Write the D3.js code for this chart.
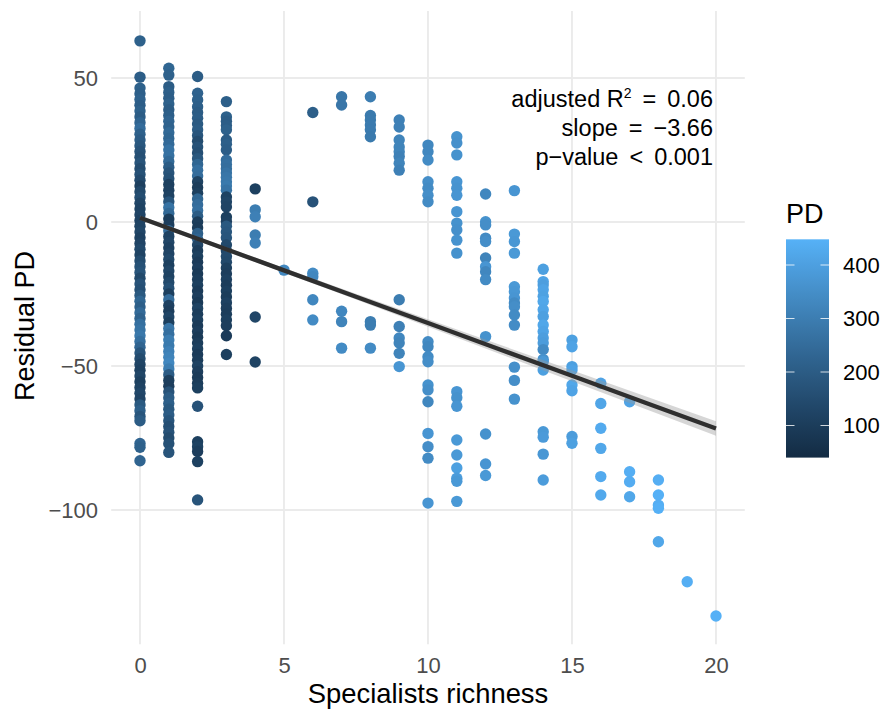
<!DOCTYPE html>
<html>
<head>
<meta charset="utf-8">
<script src="https://cdn.jsdelivr.net/npm/d3@7"></script>
<style>
  html, body { margin: 0; padding: 0; background: #ffffff; }
  svg { display: block; font-family: "Liberation Sans", Arial, Helvetica, sans-serif; }
</style>
</head>
<body>
<svg id="chart" width="882" height="711"></svg>
<script>
// ---------- DATA ----------
// Each richness column: [residual PD, PD]
const s0 = [[62.9,215],[50.3,205],
  [46.5,215],[44.5,210],[42.5,220],[40.5,205],[38.5,215],[36.5,200],[34.5,225],[32.5,250],[30.5,215],[28.5,200],
  [26.5,185],[24.5,170],[22.5,160],[20.5,175],[18.5,150],[16.5,165],[14.5,145],[12.5,110],[10.5,140],[8.5,155],
  [6.5,130],[4.5,120],[2.5,125],[0.5,115],[-1.5,120],[-3.5,130],[-5.5,115],[-7.5,125],[-9.5,140],[-11.5,120],
  [-13.5,150],[-15.5,165],[-17.5,175],[-19.5,140],[-21.5,170],[-23.5,160],[-25.5,190],[-27.5,230],[-29.5,210],
  [-31.5,245],[-33.5,220],[-35.5,260],[-37.5,270],[-39.5,285],[-41.5,260],[-43.5,225],[-45.5,180],[-47.5,150],
  [-49.5,125],[-51.5,115],[-53.5,130],[-55.5,110],[-57.5,120],[-59.5,135],[-61.5,125],[-63.5,190],[-65.5,210],
  [-67.5,180],[-69,200],[-76.9,225],[-78.2,215],[-82.9,225]];
const s1 = [[53.4,230],[51,215],[47,200],[45,210],[43,205],[41,215],[39,200],[37,210],[35,225],[33,220],[31,240],
  [29,230],[27,245],[25,270],[23,265],[21,240],[19,200],[17,175],[15,165],[13,110],[11,115],[9,120],[7,180],
  [5,270],[3,240],[1,100],[-1,105],[-3,250],[-5,120],[-7,130],[-9,115],[-11,125],[-13,140],[-15,110],[-17,130],
  [-19,120],[-21,140],[-23,160],[-25,110],[-27,250],[-29,115],[-31,105],[-33,130],[-35,110],[-37,280],[-39,260],
  [-41,300],[-43,290],[-45,310],[-47,320],[-49,330],[-51,300],[-53,200],[-55,110],[-57,105],[-59,170],[-61,200],
  [-63,210],[-65,190],[-67,200],[-69,180],[-71,160],[-73,170],[-75,150],[-77,165],[-80,175]];
const s2 = [[50.5,200],[44.7,220],[42.4,215],[40,210],[38,200],[36,205],[34,195],[32,200],[30,180],[28,150],
  [26,170],[24,160],[22,185],[20,230],[18,260],[16,250],[14,120],[12,100],[10,110],[8,230],[6,250],[4,260],
  [2,200],[0,100],[-2,95],[-4,210],[-6,225],[-8,130],[-10,100],[-12,110],[-14,95],[-16,105],[-18,90],[-20,100],
  [-22,110],[-24,95],[-26,105],[-28,90],[-30,120],[-32,100],[-34,110],[-36,95],[-38,105],[-40,90],[-42,100],
  [-44,110],[-46,95],[-48,100],[-50,120],[-52,105],[-54,95],[-56,100],[-57.6,110],[-64,170],[-76.3,110],
  [-78,120],[-79.7,105],[-83.2,115],[-96.5,175]];
const s3 = [[41.8,210],[36.5,215],[35,200],[33.5,205],[32,215],[28.5,200],[27,210],[25,205],[21.5,250],[20,260],
  [18.5,255],[17,270],[15.5,280],[14,285],[12.5,290],[11,270],[8.7,120],[7,130],[5.2,125],[1.7,110],[0.2,115],
  [-1.5,190],[-3.5,185],[-5.5,180],[-8,140],[-10,135],[-12,145],[-14,140],[-16,110],[-18,105],[-20,115],
  [-22,100],[-24,110],[-26,100],[-28,115],[-30,105],[-32,100],[-34,110],[-36,105],[-39.5,95],[-46,110]];
const s4 = [[11.5,110],[4.2,300],[1.8,310],[-4.5,300],[-7.3,310],[-33,130],[-48.6,120]];
const s5 = [[-16.7,330]];
const s6 = [[38,210],[7,170],[-17.8,340],[-19,330],[-27,330],[-34,340]];
const s7 = [[43.5,280],[40.6,280],[-31,330],[-34.6,320],[-43.8,340]];
const s8 = [[43.5,300],[37,290],[35.4,290],[33.7,295],[32,295],[29.6,290],[-34.6,300],[-35.8,300],[-43.8,340]];
const s9 = [[35.4,310],[33,310],[28.5,320],[26,320],[24.4,320],[22.7,310],[20.4,320],[18,310],[-27,300],
  [-36.3,310],[-40.3,330],[-42,320],[-45.6,320],[-50.2,370]];
const s10 = [[26.7,330],[24.4,330],[21.5,340],[14,350],[11.7,340],[9.3,350],[7,340],[-41.6,340],[-43.3,330],
  [-46.8,340],[-48.5,350],[-56.6,360],[-58.3,350],[-62.4,330],[-73.4,370],[-78,350],[-82,340],[-97.6,370]];
const s11 = [[29.6,360],[27.4,355],[23.3,360],[14,370],[11.7,365],[9.3,370],[3.6,370],[-0.4,360],[-2.8,355],
  [-6.3,365],[-10.8,360],[-58.9,370],[-61,360],[-64,370],[-75.7,380],[-80.9,380],[-85.4,400],[-89,390],
  [-90,380],[-97,380]];
const s12 = [[9.7,330],[0.1,360],[-1,350],[-5.6,340],[-6.8,350],[-12.5,320],[-15.5,370],[-17.3,330],[-20,340],
  [-39.8,360],[-73.6,360],[-84,370],[-88,380]];
const s13 = [[10.9,370],[-4.2,380],[-6.8,375],[-10.8,380],[-22.5,380],[-24.2,375],[-26.4,370],[-28.1,340],
  [-29.4,350],[-32.3,340],[-35.8,345],[-50.4,355],[-55,350],[-61.5,360]];
const s14 = [[-16.4,400],[-20.7,410],[-21.9,395],[-23.5,410],[-25.8,405],[-27.6,420],[-30.5,415],[-32.8,400],
  [-35.8,420],[-38,410],[-40.3,395],[-42,390],[-44.3,340],[-47.7,360],[-48.5,380],[-51.4,400],[-72.8,380],
  [-74.7,385],[-80.6,375],[-89.6,390]];
const s15 = [[-41,400],[-43.3,410],[-50.2,400],[-51.4,410],[-56.6,420],[-58.6,410],[-74.5,390],[-76.8,400]];
const s16 = [[-56,410],[-63,415],[-71.6,430],[-78.6,420],[-88.4,430],[-94.8,425]];
const s17 = [[-62.4,410],[-86.7,440],[-90.2,435],[-95.4,420]];
const s18 = [[-89.6,440],[-94.8,445],[-98.3,440],[-99.4,445],[-111,420]];
const s19 = [[-124.9,440]];
const s20 = [[-136.8,445]];
const columns = [s0,s1,s2,s3,s4,s5,s6,s7,s8,s9,s10,s11,s12,s13,s14,s15,s16,s17,s18,s19,s20];

const xTicks = [0, 5, 10, 15, 20];
const yTicks = [-100, -50, 0, 50];
const pdTicks = [100, 200, 300, 400];
const pdDomain = [40, 448];

const fitIntercept = 1.5;
const fitSlope = -3.66;
const bandX = [0, 2.5, 5, 7.5, 10, 12.5, 15, 17.5, 20];
const bandHalf = [0.8, 0.7, 0.8, 1.0, 1.3, 1.6, 1.9, 2.2, 2.5];

// [left part, superscript, operator, right part]
const annotationLines = [
  ["adjusted R", "2", "=", "0.06"],
  ["slope", "", "=", "\u22123.66"],
  ["p\u2212value", "", "<", "0.001"]
];

// ---------- DRAW ----------
const svg = d3.select("#chart");
const x = d3.scaleLinear().domain([0, 20]).range([140, 716]);
const y = d3.scaleLinear().domain([-100, 50]).range([510, 78]);
const panel = { left: x(-1), right: x(21), top: y(73.3), bottom: y(-146.6) };
const color = d3.scaleLinear().domain(pdDomain).range(["#132B43", "#56B1F7"]).interpolate(d3.interpolateLab);
const fmt = v => v < 0 ? "\u2212" + Math.abs(v) : String(v);

// grid
svg.append("g").selectAll("line").data(yTicks).join("line")
  .attr("x1", panel.left).attr("x2", panel.right)
  .attr("y1", d => y(d)).attr("y2", d => y(d))
  .attr("stroke", "#EBEBEB").attr("stroke-width", 1.9);
svg.append("g").selectAll("line").data(xTicks).join("line")
  .attr("y1", panel.top).attr("y2", panel.bottom)
  .attr("x1", d => x(d)).attr("x2", d => x(d))
  .attr("stroke", "#EBEBEB").attr("stroke-width", 1.9);

// points
const pts = [];
columns.forEach((col, i) => col.forEach(p => pts.push({ s: i, r: p[0], pd: p[1] })));
svg.append("g").selectAll("circle").data(pts).join("circle")
  .attr("cx", d => x(d.s)).attr("cy", d => y(d.r)).attr("r", 5.7)
  .attr("fill", d => color(d.pd));

// confidence band and fit line
const fit = t => fitIntercept + fitSlope * t;
const bandData = bandX.map((t, i) => ({ t, h: bandHalf[i] }));
svg.append("path").datum(bandData)
  .attr("d", d3.area().x(d => x(d.t)).y0(d => y(fit(d.t) - d.h)).y1(d => y(fit(d.t) + d.h)))
  .attr("fill", "#999999").attr("fill-opacity", 0.4);
svg.append("path").datum(bandX)
  .attr("d", d3.line().x(t => x(t)).y(t => y(fit(t))))
  .attr("fill", "none").attr("stroke", "#2f2f2f").attr("stroke-width", 4.3);

// axes text
const xAxis = d3.axisBottom(x).tickValues(xTicks).tickSize(0).tickFormat(fmt);
const gx = svg.append("g").attr("transform", `translate(0,${panel.bottom})`).call(xAxis);
gx.select(".domain").remove();
gx.selectAll("text").attr("dy", null).attr("y", 29)
  .attr("font-size", 22).attr("fill", "#4D4D4D").attr("font-family", "Liberation Sans, Arial, sans-serif");

const yAxis = d3.axisLeft(y).tickValues(yTicks).tickSize(0).tickFormat(fmt);
const gy = svg.append("g").attr("transform", `translate(98,0)`).call(yAxis);
gy.select(".domain").remove();
gy.selectAll("text").attr("x", 0).attr("dy", "0.36em")
  .attr("font-size", 22).attr("fill", "#4D4D4D").attr("font-family", "Liberation Sans, Arial, sans-serif");

svg.append("text").attr("x", (panel.left + panel.right) / 2).attr("y", 703)
  .attr("text-anchor", "middle").attr("font-size", 27.4).attr("fill", "#000").text("Specialists richness");
svg.append("text").attr("transform", "translate(34,326) rotate(-90)")
  .attr("text-anchor", "middle").attr("font-size", 27).attr("fill", "#000").text("Residual PD");

// annotation
svg.append("g").selectAll("text").data(annotationLines).join("text")
  .attr("x", 713).attr("y", (d, i) => 107 + i * 29)
  .attr("text-anchor", "end").attr("font-size", 23.5).attr("fill", "#000")
  .each(function(d) {
    const t = d3.select(this);
    t.append("tspan").text(d[0]);
    if (d[1]) {
      t.append("tspan").attr("font-size", 14).attr("dy", -9).text(d[1]);
      t.append("tspan").attr("dy", 9).attr("dx", 11).text(d[2]);
    } else {
      t.append("tspan").attr("dx", 11).text(d[2]);
    }
    t.append("tspan").attr("dx", 11).text(d[3]);
  });

// legend
const ly = d3.scaleLinear().domain([100, 400]).range([425.5, 265]);
const barTop = ly(pdDomain[1]), barBot = ly(pdDomain[0]);
const defs = svg.append("defs");
const grad = defs.append("linearGradient").attr("id", "pdgrad")
  .attr("x1", 0).attr("y1", 1).attr("x2", 0).attr("y2", 0);
d3.range(0, 1.0001, 0.05).forEach(f => {
  grad.append("stop").attr("offset", f)
    .attr("stop-color", color(pdDomain[0] + f * (pdDomain[1] - pdDomain[0])));
});
svg.append("text").attr("x", 786).attr("y", 223).attr("font-size", 27).attr("fill", "#000").text("PD");
svg.append("rect").attr("x", 786).attr("y", barTop).attr("width", 43).attr("height", barBot - barTop)
  .attr("fill", "url(#pdgrad)");
const lt = svg.append("g");
pdTicks.forEach(v => {
  lt.append("line").attr("x1", 786).attr("x2", 794.5).attr("y1", ly(v)).attr("y2", ly(v))
    .attr("stroke", "#ffffff").attr("stroke-width", 1).attr("stroke-opacity", 0.8);
  lt.append("line").attr("x1", 820.5).attr("x2", 829).attr("y1", ly(v)).attr("y2", ly(v))
    .attr("stroke", "#ffffff").attr("stroke-width", 1).attr("stroke-opacity", 0.8);
});
svg.append("g").selectAll("text").data(pdTicks).join("text")
  .attr("x", 843).attr("y", d => ly(d)).attr("dy", "0.36em")
  .attr("font-size", 22).attr("fill", "#000").text(d => d);
</script>
</body>
</html>
